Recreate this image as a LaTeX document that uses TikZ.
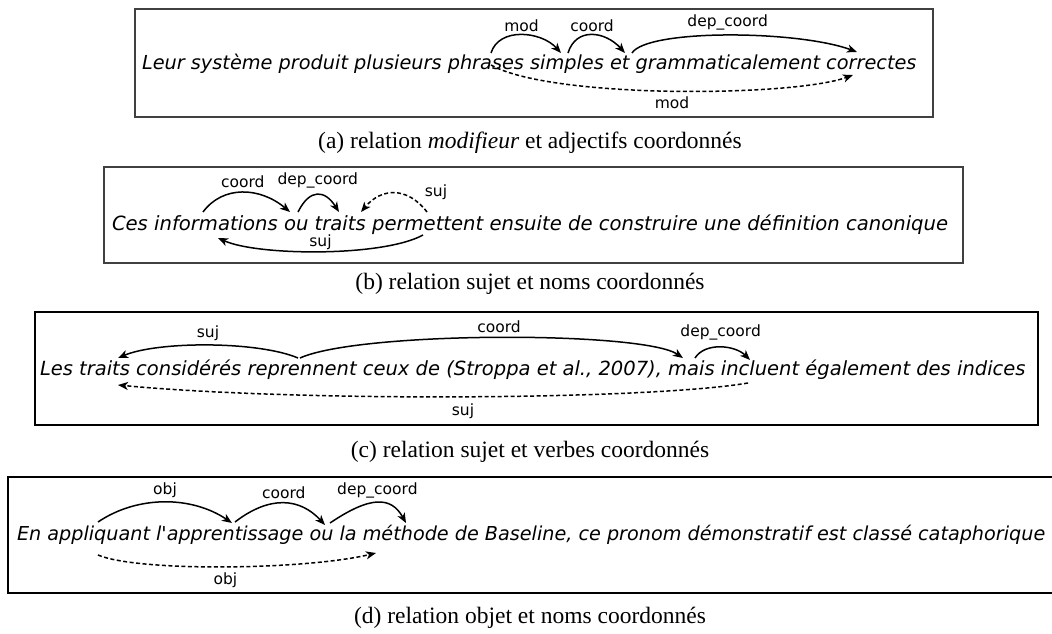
\documentclass[tikz,border=0pt]{standalone}
\usepackage{fontspec}
\setmainfont{Liberation Serif}
\newfontfamily\djv{DejaVu Sans}
\usetikzlibrary{arrows.meta}
\newcommand\sentA{\djv\itshape\fontsize{19.3}{23}\selectfont}
\newcommand\sentB{\djv\itshape\fontsize{19.6}{23}\selectfont}
\newcommand\sentC{\djv\itshape\fontsize{19.5}{23}\selectfont}
\newcommand\sentD{\djv\itshape\fontsize{19.2}{23}\selectfont}
\newcommand\lblfont{\djv\fontsize{15.5}{18}\selectfont}
\newcommand\capfont{\fontsize{23.5}{28}\selectfont}
\tikzset{
  sentnode/.style={inner sep=0pt, outer sep=0pt, anchor=base west},
  lab/.style={font=\lblfont, inner sep=0pt},
  deparc/.style={line width=1.5pt, -{Stealth[length=10pt,width=8pt,inset=2.8pt]}},
  dashedarc/.style={deparc, dash pattern=on 4pt off 2.5pt},
  boxframe/.style={line width=1.3pt, draw=black!75},
  captext/.style={font=\capfont, inner sep=0pt}
}
\begin{document}
\begin{tikzpicture}[x=1pt,y=-1pt]
\useasboundingbox (0,0) rectangle (1052,634);
% ---------------- (a)
\draw[boxframe] (135,9) rectangle (933,117);
\node[sentnode, font=\sentA] (sa) at (142,70) {Leur système produit plusieurs phrases simples et grammaticalement correctes};
\coordinate (a1) at (491,53);
\coordinate (a2) at (561,53);
\coordinate (a3) at (568,53);
\coordinate (a4) at (625,53);
\coordinate (a5) at (632,53);
\coordinate (a6) at (857,52);
\coordinate (a7) at (491,65);
\coordinate (a8) at (853,75);
\draw[deparc] (a1) .. controls +(8,-26) and +(-20,-22) .. (a2) node[lab, midway, above=3pt] {mod};
\draw[deparc] (a3) .. controls +(8,-26) and +(-20,-22) .. (a4) node[lab, midway, above=3pt] {coord};
\draw[deparc] (a5) .. controls +(15,-24) and +(-60,-22) .. (a6) node[lab, midway, above=4pt] {dep\_coord};
\draw[dashedarc] (a7) .. controls +(60,34) and +(-60,22) .. (a8) node[lab, midway, below=5pt] {mod};
\node[captext] (capa) at (530,143) {(a) relation \textit{modifieur} et adjectifs coordonnés};
% ---------------- (b)
\draw[boxframe] (104,167) rectangle (963,263);
\node[sentnode, font=\sentB] (sb) at (112,230) {Ces informations ou traits permettent ensuite de construire une définition canonique};
\coordinate (b1) at (203,212);
\coordinate (b2) at (290,212);
\coordinate (b3) at (298,212);
\coordinate (b4) at (339,212);
\coordinate (b5) at (361,212);
\coordinate (b6) at (427,212);
\coordinate (b7) at (423,235);
\coordinate (b8) at (218,238);
\draw[deparc] (b1) .. controls +(20,-27) and +(-30,-25) .. (b2) node[lab, midway, above=4pt] {coord};
\draw[deparc] (b3) .. controls +(12,-24) and +(-14,-22) .. (b4) node[lab, midway, above=6pt] {dep\_coord};
\draw[dashedarc] (b6) .. controls +(-20,-26) and +(20,-24) .. (b5);
\node[lab] (sujb) at (436,192) {suj};
\draw[deparc] (b7) .. controls +(-40,22) and +(40,18) .. (b8) node[lab, midway, above=1pt] {suj};
\node[captext] (capb) at (530,284) {(b) relation sujet et noms coordonnés};
% ---------------- (c)
\draw[boxframe, draw=black] (35,312) rectangle (1038,425);
\node[sentnode, font=\sentC] (sc) at (40,375) {Les traits considérés reprennent ceux de (Stroppa et al., 2007), mais incluent également des indices};
\coordinate (c1) at (298,358);
\coordinate (c2) at (118,358);
\coordinate (c3) at (300,358);
\coordinate (c4) at (683,358);
\coordinate (c5) at (695,358);
\coordinate (c6) at (750,360);
\coordinate (c7) at (748,383);
\coordinate (c8) at (118,385);
\draw[deparc] (c1) .. controls +(-40,-17) and +(40,-17) .. (c2) node[lab, midway, above=4pt] {suj};
\draw[deparc] (c3) .. controls +(60,-27) and +(-40,-27) .. (c4) node[lab, midway, above=4pt] {coord};
\draw[deparc] (c5) .. controls +(10,-16) and +(-15,-15) .. (c6) node[lab, midway, above=6pt] {dep\_coord};
\draw[dashedarc] (c7) .. controls +(-100,17) and +(180,17) .. (c8) node[lab, midway, below=6pt] {suj};
\node[captext] (capc) at (530,452) {(c) relation sujet et verbes coordonnés};
% ---------------- (d)
\draw[boxframe, draw=black] (8,477) rectangle (1062,593);
\node[sentnode, font=\sentD] (sd) at (17,540) {En appliquant l'apprentissage ou la méthode de Baseline, ce pronom démonstratif est classé cataphorique};
\coordinate (d1) at (98,522);
\coordinate (d2) at (232,523);
\coordinate (d3) at (235,522);
\coordinate (d4) at (325,525);
\coordinate (d5) at (330,523);
\coordinate (d6) at (406,523);
\coordinate (d7) at (98,555);
\coordinate (d8) at (376,553);
\draw[deparc] (d1) .. controls +(40,-27) and +(-40,-27) .. (d2) node[lab, midway, above=4pt] {obj};
\draw[deparc] (d3) .. controls +(35,-27) and +(-25,-27) .. (d4) node[lab, midway, above=4pt] {coord};
\draw[deparc] (d5) .. controls +(40,-27) and +(-15,-27) .. (d6) node[lab, midway, above=4pt] {dep\_coord};
\draw[dashedarc] (d7) .. controls +(40,17) and +(-71,17) .. (d8) node[lab, midway, below=5pt] {obj};
\node[captext] (capd) at (530,618) {(d) relation objet et noms coordonnés};
\end{tikzpicture}
\end{document}
